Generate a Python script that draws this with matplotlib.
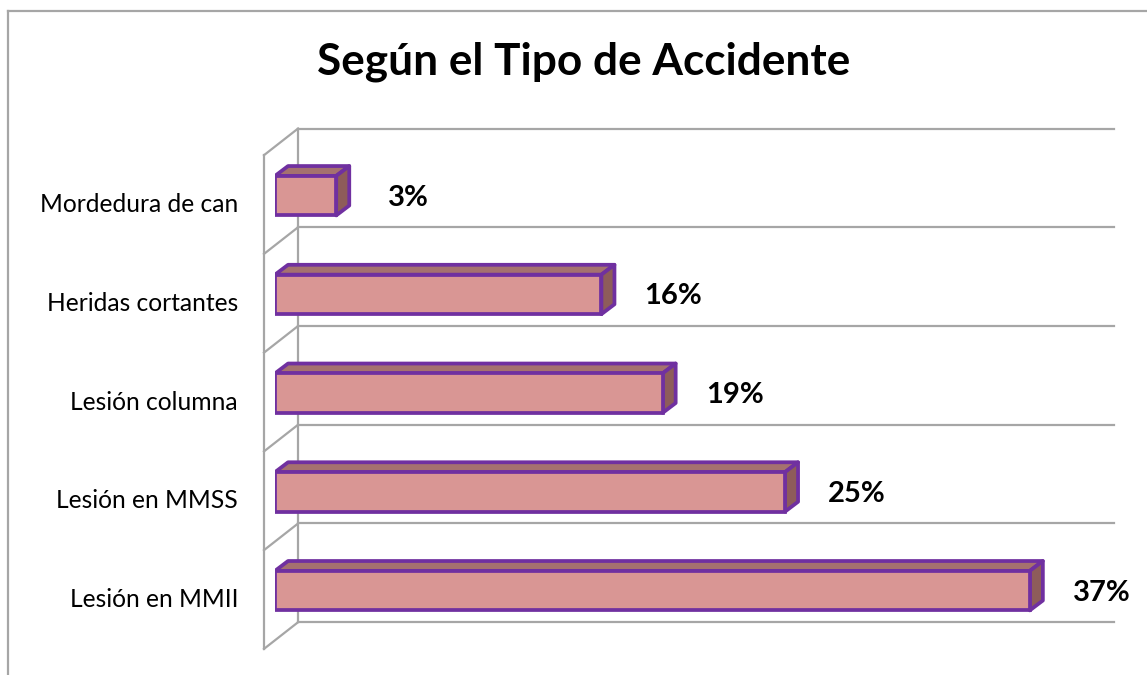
import matplotlib
matplotlib.use('Agg')
import matplotlib.pyplot as plt
from matplotlib.patches import Polygon
from matplotlib.lines import Line2D

plt.rcParams['font.family'] = ['Lato', 'DejaVu Sans']

categories = ['Mordedura de can', 'Heridas cortantes', 'Lesión columna',
              'Lesión en MMSS', 'Lesión en MMII']
values = [3, 16, 19, 25, 37]
title = 'Según el Tipo de Accidente'

front_col = '#D99694'
top_col = '#A5716F'
side_col = '#8E5C5A'
edge_col = '#7030A0'
grid_col = '#A6A6A6'

# 3d look, in data units (x in %, y in category steps, y axis inverted)
bar_h = 0.40
dx, dy = 0.64, 0.10          # bar depth
bx, by = 1.13, 0.18          # back wall offset
fx, fy = -0.54, 0.09         # front edge of side wall
xmax = 40

W, H = 1147, 675
fig = plt.figure(figsize=(W / 100, H / 100), dpi=100)
ax = fig.add_axes([275 / W, 1 - 640 / H, 816 / W, (640 - 146.3) / H])
ax.set_xlim(0, xmax)
ax.set_ylim(len(categories) - 0.5, -0.5)
ax.axis('off')

# walls
bounds = [i - 0.5 for i in range(len(categories) + 1)]
for b in bounds:
    ax.plot([bx, xmax + bx], [b - by, b - by], color=grid_col, lw=1.6,
            clip_on=False, zorder=1)
    ax.plot([fx, bx], [b + fy, b - by], color=grid_col, lw=1.6,
            clip_on=False, zorder=1)
ax.plot([bx, bx], [bounds[0] - by, bounds[-1] - by], color=grid_col, lw=1.6,
        clip_on=False, zorder=1)
ax.plot([fx, fx], [bounds[0] + fy, bounds[-1] + fy], color=grid_col, lw=1.6,
        clip_on=False, zorder=1)

# bars
for i, v in enumerate(values):
    y0, y1 = i - bar_h / 2, i + bar_h / 2
    top = Polygon([(0, y0), (v, y0), (v + dx, y0 - dy), (dx, y0 - dy)],
                  closed=True, facecolor=top_col, edgecolor=edge_col,
                  lw=2.7, joinstyle='round', zorder=3)
    side = Polygon([(v, y0), (v + dx, y0 - dy), (v + dx, y1 - dy), (v, y1)],
                   closed=True, facecolor=side_col, edgecolor=edge_col,
                   lw=2.7, joinstyle='round', zorder=3)
    ax.add_patch(top)
    ax.add_patch(side)
ax.barh(range(len(values)), values, height=bar_h, color=front_col,
        edgecolor=edge_col, linewidth=2.7, zorder=4)

for i, v in enumerate(values):
    ax.annotate(f'{v}%', (v, i), xytext=(72, -2), textcoords='offset pixels',
                ha='center', va='center', fontsize=21, fontweight='bold',
                color='black', annotation_clip=False)
    ax.text(-1.81, i + fy, categories[i], ha='right', va='center',
            fontsize=17.7, color='black')

fig.text(584 / W, 1 - 62 / H, title, ha='center', va='center',
         fontsize=31.8, fontweight='bold')

# chart frame
fig.add_artist(Line2D([8 / W, 8 / W], [0, 1 - 11 / H], color=grid_col, lw=1.6))
fig.add_artist(Line2D([8 / W, 1], [1 - 11 / H, 1 - 11 / H], color=grid_col, lw=1.6))

fig.savefig('out.png', dpi=100)
